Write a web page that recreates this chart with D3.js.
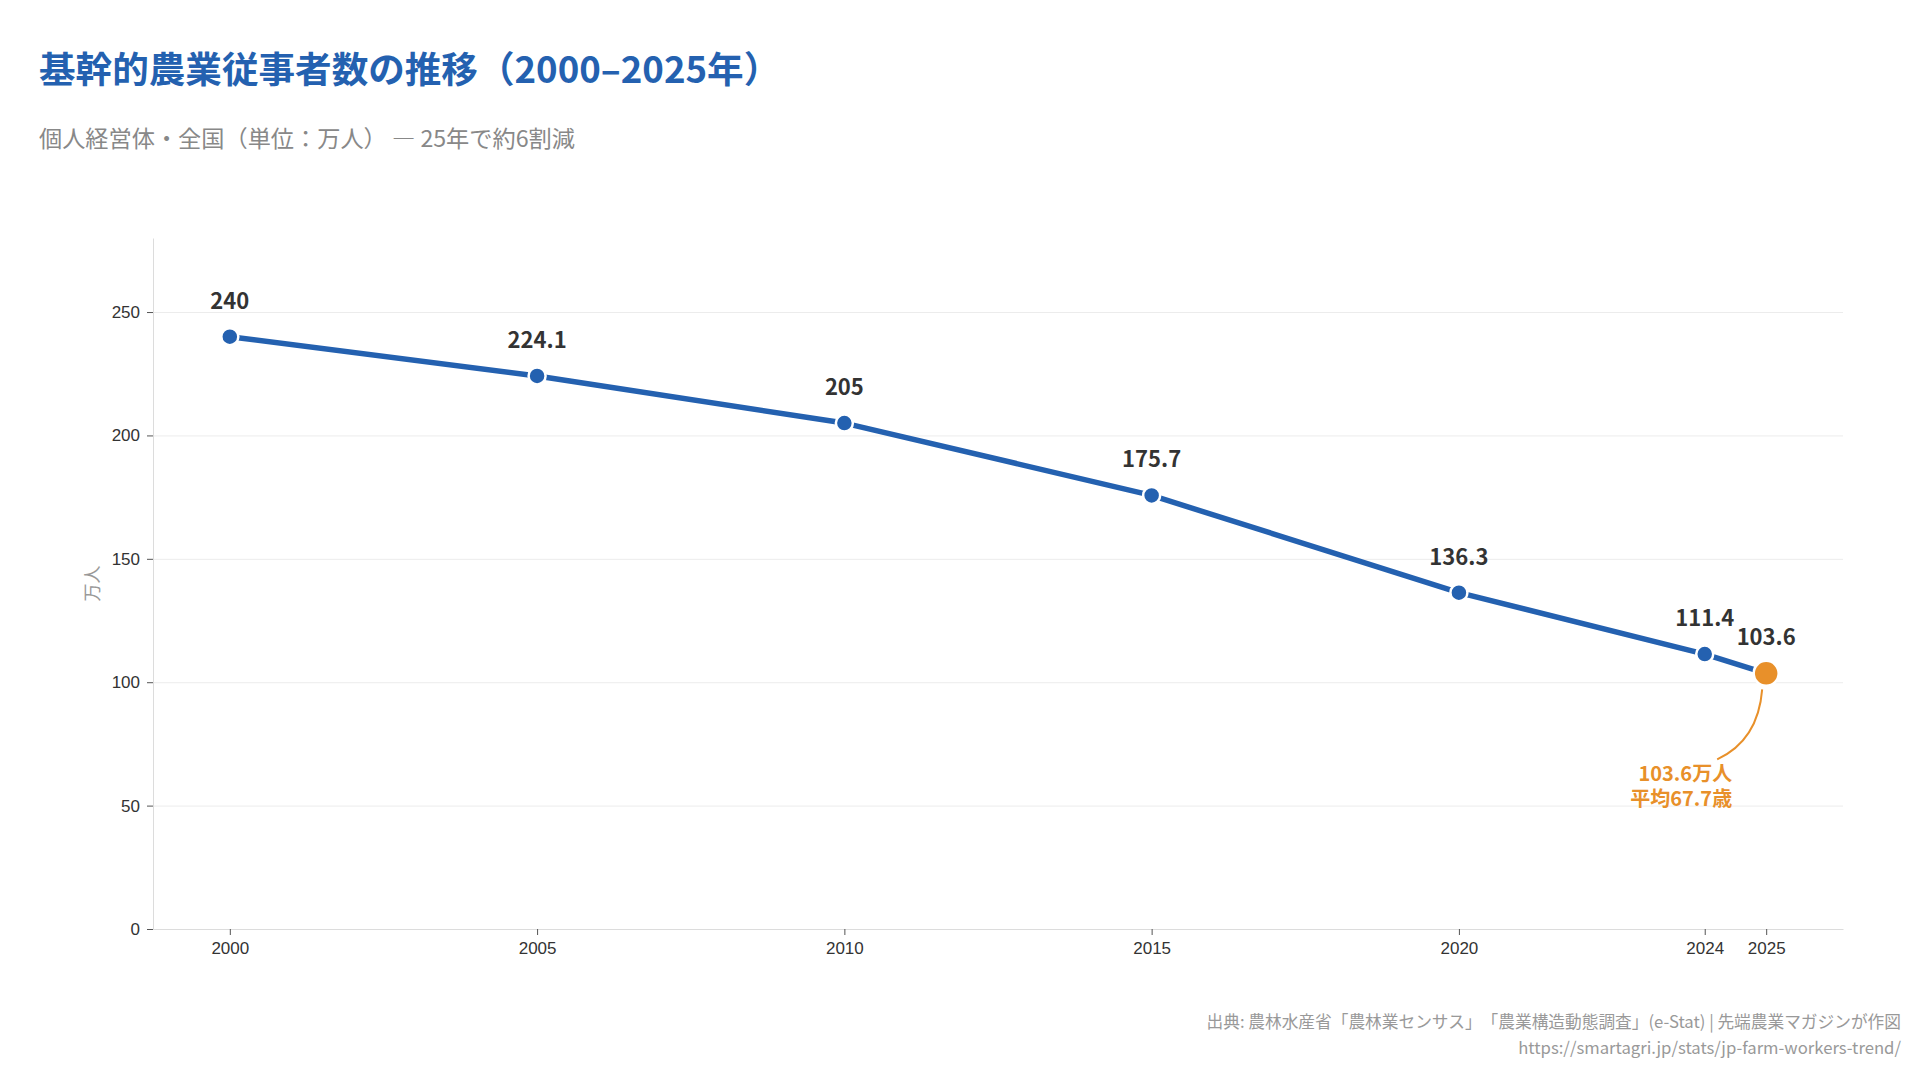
<!DOCTYPE html>
<html lang="ja">
<head>
<meta charset="utf-8">
<title>基幹的農業従事者数の推移</title>
<script src="https://cdn.jsdelivr.net/npm/d3@7"></script>
<style>
  body { margin: 0; background: #fff; }
  svg { display: block; font-family: "Noto Sans CJK JP", "Noto Sans", sans-serif; text-spacing-trim: space-all; }
  .grid line { stroke: #ececec; }
  .grid .domain { display: none; }
  .axis .domain { stroke: #dcdcdc; }
  .axis .tick line { stroke: #555; }
  .axis text { font-size: 17px; fill: #333; }
</style>
</head>
<body>
<div id="chart"></div>
<script>
// データ（単位：万人）
const years = [2000, 2005, 2010, 2015, 2020, 2024, 2025];
const workers = [240, 224.1, 205, 175.7, 136.3, 111.4, 103.6];
const yTicks = [0, 50, 100, 150, 200, 250];
const xTicks = [2000, 2005, 2010, 2015, 2020, 2024, 2025];
const calloutLines = ["103.6万人", "平均67.7歳"];

const W = 1920, H = 1080;
const margin = {top: 238, right: 77, bottom: 151, left: 153};
const width = W - margin.left - margin.right;
const height = H - margin.top - margin.bottom;
const blue = "#2461b0", orange = "#e8902a";

const data = years.map((y, i) => ({year: y, value: workers[i]}));

const root = d3.select("#chart")
  .append("svg")
    .attr("width", W)
    .attr("height", H);

// タイトル
root.append("text")
  .attr("x", 39).attr("y", 83)
  .attr("font-size", 36.6).attr("font-weight", 700)
  .attr("fill", blue)
  .text("基幹的農業従事者数の推移（2000–2025年）");

root.append("text")
  .attr("x", 39).attr("y", 147)
  .attr("font-size", 23.2)
  .attr("fill", "#888")
  .text("個人経営体・全国（単位：万人） — 25年で約6割減");

const svg = root.append("g")
  .attr("transform", "translate(" + margin.left + "," + margin.top + ")");

// 端に1.25年ぶん余白
const xScale = d3.scaleLinear()
  .domain([1998.75, 2026.25])
  .range([0, width]);

const yScale = d3.scaleLinear()
  .domain([0, 280])
  .range([height, 0]);

// グリッド
svg.append("g")
  .attr("class", "grid")
  .call(d3.axisLeft(yScale)
    .tickValues(yTicks)
    .tickSize(-width)
    .tickFormat(""));

svg.append("g")
  .attr("class", "axis")
  .attr("transform", "translate(0," + height + ")")
  .call(d3.axisBottom(xScale)
    .tickValues(xTicks)
    .tickFormat(d3.format("d"))
    .tickSizeOuter(0)
    .tickPadding(7));

svg.append("g")
  .attr("class", "axis")
  .call(d3.axisLeft(yScale)
    .tickValues(yTicks)
    .tickSizeOuter(0)
    .tickPadding(7));

// 軸ラベル
svg.append("text")
  .attr("transform", "translate(-60," + (height / 2) + ") rotate(-90)")
  .attr("text-anchor", "middle")
  .attr("dy", "0.35em")
  .attr("font-size", 18)
  .attr("fill", "#999")
  .text("万人");

// 折れ線
const line = d3.line()
  .x(d => xScale(d.year))
  .y(d => yScale(d.value));

svg.append("path")
  .datum(data)
  .attr("fill", "none")
  .attr("stroke", blue)
  .attr("stroke-width", 5.5)
  .attr("stroke-linejoin", "round")
  .attr("d", line);

const last = data[data.length - 1];

svg.selectAll(".pt")
  .data(data)
  .enter()
  .append("circle")
    .attr("class", "pt")
    .attr("cx", d => xScale(d.year))
    .attr("cy", d => yScale(d.value))
    .attr("r", d => d === last ? 12.5 : 8.5)
    .attr("fill", d => d === last ? orange : blue)
    .attr("stroke", "#fff")
    .attr("stroke-width", 2.5);

svg.selectAll(".val")
  .data(data)
  .enter()
  .append("text")
    .attr("class", "val")
    .attr("x", d => xScale(d.year))
    .attr("y", d => yScale(d.value) - 28)
    .attr("text-anchor", "middle")
    .attr("font-size", 22)
    .attr("font-weight", 700)
    .attr("fill", "#333")
    .text(d => String(d.value));

// 2025年の注記
const lx = xScale(last.year), ly = yScale(last.value);
svg.append("path")
  .attr("fill", "none")
  .attr("stroke", orange)
  .attr("stroke-width", 2)
  .attr("d", "M" + (lx - 4) + "," + (ly + 16) +
             " Q" + (lx - 8) + "," + (ly + 67) +
             " " + (lx - 49) + "," + (ly + 86));

const note = svg.append("text")
  .attr("x", lx - 34)
  .attr("y", ly + 108)
  .attr("text-anchor", "end")
  .attr("font-size", 20)
  .attr("font-weight", 700)
  .attr("fill", orange);
note.selectAll("tspan")
  .data(calloutLines)
  .enter()
  .append("tspan")
    .attr("x", lx - 34)
    .attr("dy", (d, i) => i === 0 ? 0 : 25)
    .text(d => d);

// 出典
root.append("text")
  .attr("x", 1901).attr("y", 1028)
  .attr("text-anchor", "end")
  .attr("font-size", 16.7)
  .attr("fill", "#999")
  .text("出典: 農林水産省「農林業センサス」「農業構造動態調査」(e-Stat) | 先端農業マガジンが作図");

root.append("text")
  .attr("x", 1901).attr("y", 1054)
  .attr("text-anchor", "end")
  .attr("font-size", 16.7)
  .attr("fill", "#999")
  .text("https://smartagri.jp/stats/jp-farm-workers-trend/");
</script>
</body>
</html>
